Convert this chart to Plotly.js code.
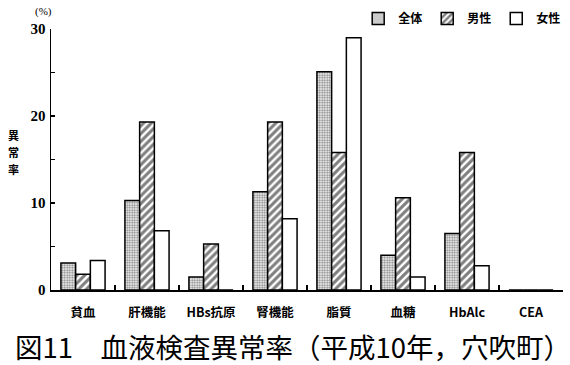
<!DOCTYPE html>
<html>
<head>
<meta charset="utf-8">
<script src="https://cdn.plot.ly/plotly-3.0.1.min.js"></script>
<style>html,body{margin:0;padding:0;background:#fff;}#chart{width:570px;height:365px;}</style>
</head>
<body>
<div id="chart"></div>
<script>
const categories = ["貧血", "肝機能", "HBs抗原", "腎機能", "脂質", "血糖", "HbAlc", "CEA"];
const seriesNames = ["全体", "男性", "女性"];
const totalVals = [3.1, 10.3, 1.5, 11.3, 25.1, 4.0, 6.5, 0];
const maleVals = [1.8, 19.3, 5.3, 19.3, 15.8, 10.6, 15.8, 0];
const femaleVals = [3.4, 6.8, 0, 8.2, 29.0, 1.5, 2.8, 0];
const yTickVals = [0, 5, 10, 15, 20, 25, 30];
const yTickText = ["0", "", "10", "", "20", "", "30"];
const chartTitle = "図11　血液検査異常率（平成10年，穴吹町）";
const yTitleChars = ["異", "常", "率"];
const unitLabel = "(%)";

const jp = "Noto Sans CJK JP";
const lineStyle = {color: "#000", width: 1.5};

const traces = [
  {type: "bar", name: seriesNames[0], x: categories, y: totalVals,
   marker: {color: "#fff", line: lineStyle,
     pattern: {shape: ".", size: 2.5, solidity: 0.5, fgcolor: "#111", bgcolor: "#fff", fillmode: "overlay"}}},
  {type: "bar", name: seriesNames[1], x: categories, y: maleVals,
   marker: {color: "#fff", line: lineStyle,
     pattern: {shape: "/", size: 5.5, solidity: 0.55, fgcolor: "#000", bgcolor: "#fff", fillmode: "overlay"}}},
  {type: "bar", name: seriesNames[2], x: categories, y: femaleVals,
   marker: {color: "#fff", line: lineStyle}}
];

const yTitleAnns = yTitleChars.map((c, i) => ({
  text: c, xref: "paper", yref: "paper", x: -0.073, y: (290.3 - (134 + i * 17)) / 263.6,
  xanchor: "center", yanchor: "middle", showarrow: false,
  font: {family: jp, size: 11, color: "#000", weight: "bold"}
}));

const layout = {
  width: 570, height: 365,
  margin: {l: 51, r: 4, t: 27, b: 75},
  paper_bgcolor: "#fff", plot_bgcolor: "#fff",
  barmode: "group", bargap: 0.31, bargroupgap: 0,
  showlegend: true,
  legend: {orientation: "h", x: 0.6, xanchor: "left", y: 1.04, yanchor: "middle",
    font: {family: jp, size: 12, color: "#000", weight: "bold"},
    bgcolor: "rgba(0,0,0,0)", itemwidth: 30, traceorder: "normal"},
  xaxis: {showline: true, linecolor: "#000", linewidth: 1.5, ticks: "inside", ticklen: 5,
    tickcolor: "#000", tickwidth: 1.5, tickson: "boundaries", showgrid: false, zeroline: false,
    tickfont: {family: jp, size: 12.5, color: "#000", weight: "bold"}, ticklabelstandoff: 10,
    fixedrange: true},
  yaxis: {range: [0, 30], showline: true, linecolor: "#000", linewidth: 1.5, ticks: "inside",
    ticklen: 4, tickcolor: "#000", tickwidth: 1.5, tickvals: yTickVals, ticktext: yTickText,
    showgrid: false, zeroline: false, ticklabelstandoff: 1,
    tickfont: {family: "Liberation Serif", size: 15, color: "#000", weight: "bold"}},
  annotations: [
    {text: unitLabel, xref: "paper", yref: "paper", x: -0.015, y: 1.067, xanchor: "center", yanchor: "middle",
     showarrow: false, font: {family: "Liberation Serif", size: 11, color: "#000"}},
    ...yTitleAnns,
    {text: chartTitle, xref: "paper", yref: "paper", x: 0.5, y: (290.3 - 347) / 263.6, xanchor: "center", yanchor: "middle",
     xshift: -14, showarrow: false, font: {family: jp, size: 27.5, color: "#000"}}
  ]
};

Plotly.newPlot("chart", traces, layout, {displayModeBar: false, staticPlot: true});
</script>
</body>
</html>
